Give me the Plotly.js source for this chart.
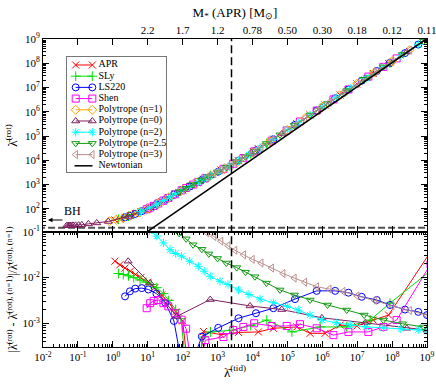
<!DOCTYPE html>
<html><head><meta charset="utf-8">
<script src="https://cdn.plot.ly/plotly-3.0.1.min.js"></script>
<style>html,body{margin:0;padding:0;background:#fff}#chart{width:436px;height:384px}</style>
</head><body><div id="chart"></div>
<script>
// ---- series names (legend order) ----
const seriesNames = ['APR','SLy','LS220','Shen','Polytrope (n=1)','Polytrope (n=0)','Polytrope (n=2)','Polytrope (n=2.5)','Polytrope (n=3)','Newtonian'];

// ---- data as log10 values ----
// APR
const aprLogTid  = [0.06,0.2,0.35,0.5,0.65,0.8,1.0,1.2,1.4,1.6,1.8,2.0,2.2,2.4,2.6,3.1,3.6,4.17,4.6,5.27,5.65,6.08,6.51,6.99,7.46,7.9,9.15];
const aprLogRot  = [1.54,1.58,1.65,1.72,1.8,1.88,2.0,2.14,2.3,2.46,2.62,2.78,2.92,3.07,3.22,3.6,3.98,4.48,4.87,5.51,5.87,6.28,6.69,7.15,7.58,7.99,9.14];
const aprLogDiff = [-1.64,-1.72,-1.79,-1.86,-1.93,-2.0,-2.1,-2.22,-2.38,-2.55,-2.75,-2.95,-4.3,-4.3,-3.18,-3.25,-3.2,-3.19,-3.11,-3.08,-3.22,-3.22,-3.04,-3.06,-2.93,-2.82,-1.38];
// SLy
const slyLogTid  = [0.16,0.3,0.45,0.6,0.78,0.95,1.1,1.26,1.45,1.6,1.8,1.95,2.15,2.35,2.6,2.8,3.45,3.95,4.41,5.13,5.94,6.7,7.37,7.94,9.15];
const slyLogRot  = [1.57,1.62,1.7,1.77,1.87,1.97,2.07,2.19,2.34,2.46,2.62,2.74,2.89,3.04,3.22,3.37,3.86,4.28,4.7,5.37,6.14,6.87,7.5,8.02,9.14];
const slyLogDiff = [-1.91,-1.93,-1.96,-2.0,-2.05,-2.1,-2.15,-2.22,-2.35,-2.5,-2.7,-2.9,-4.3,-4.3,-3.3,-3.19,-3.15,-3.05,-2.93,-3.19,-3.08,-3.08,-2.93,-2.56,-1.82];
// LS220
const lsLogTid   = [0.35,0.49,0.64,0.83,1.02,1.25,1.5,1.75,2.0,2.2,2.55,3.02,3.6,4.1,4.6,5.22,5.84,6.37,6.75,7.13,7.56,7.94,8.37,8.75,9.0];
const lsLogRot   = [1.65,1.71,1.79,1.9,2.01,2.18,2.38,2.58,2.78,2.92,3.19,3.53,3.98,4.41,4.87,5.46,6.05,6.56,6.92,7.28,7.68,8.02,8.42,8.77,9.0];
const lsLogDiff  = [-2.41,-2.3,-2.24,-2.23,-2.26,-2.35,-2.55,-2.95,-4.0,-4.0,-3.29,-3.1,-2.89,-2.78,-2.67,-2.47,-2.29,-2.29,-2.33,-2.42,-2.49,-2.6,-2.7,-2.75,-2.82];
// Shen
const shenLogTid = [0.97,1.07,1.17,1.3,1.45,1.59,1.78,1.97,2.1,2.3,2.45,2.65,3.17,3.45,3.74,4.05,4.55,4.98,5.36,5.84,6.32,6.75,7.32,7.75,8.13,9.1];
const shenLogRot = [1.98,2.05,2.12,2.22,2.34,2.45,2.6,2.76,2.86,3.0,3.11,3.26,3.65,3.86,4.09,4.37,4.81,5.23,5.6,6.05,6.51,6.92,7.45,7.85,8.2,9.09];
const shenLogDiff= [-2.67,-2.56,-2.51,-2.49,-2.56,-2.63,-2.78,-2.92,-3.12,-4.2,-4.2,-3.37,-3.3,-3.15,-3.08,-3.0,-3.06,-3.06,-3.02,-3.11,-3.26,-3.19,-3.19,-3.08,-2.93,-1.71];
// Polytrope n=1 (reference: no difference curve)
const n1LogTid   = [-0.1,0.1,0.3,0.5,0.75,1.0,1.3,1.6,2.0,2.4,2.8,3.2,3.6,4.0,4.5,5.0,5.5,6.0,6.5,7.0,7.5,8.0,8.5,9.0];
const n1LogRot   = [1.49,1.55,1.62,1.72,1.85,2.0,2.22,2.46,2.78,3.07,3.37,3.67,3.98,4.32,4.78,5.25,5.73,6.2,6.68,7.16,7.62,8.08,8.54,9.0];
// Polytrope n=0
const n0LogTid   = [-1.32,-1.28,-1.24,-1.2,-1.14,-1.07,-0.98,-0.89,-0.7,-0.46,-0.13,0.44,1.07,1.83,2.79,3.93,4.84,5.99,7.23,8.42,9.0];
const n0LogRot   = [1.31,1.31,1.31,1.31,1.32,1.32,1.33,1.34,1.38,1.42,1.48,1.69,2.05,2.64,3.36,4.26,5.09,6.19,7.37,8.47,9.0];
const n0DiffLogTid = [0.44,1.07,1.83,2.79,3.93,4.84,5.99,7.23,8.42,9.0];
const n0LogDiff  = [-1.64,-2.12,-2.85,-2.48,-2.62,-2.7,-2.88,-2.99,-3.11,-3.15];
// Polytrope n=2
const n2LogTid   = [0.8,1.05,1.26,1.45,1.64,1.8,1.97,2.2,2.45,2.62,2.79,3.07,3.3,3.6,3.9,4.22,4.6,5.0,5.31,5.65,5.99,6.4,6.8,7.25,7.75,8.25,8.75,9.0];
const n2LogRot   = [1.88,2.04,2.19,2.34,2.49,2.62,2.76,2.92,3.11,3.24,3.36,3.57,3.75,3.98,4.23,4.52,4.87,5.25,5.55,5.87,6.19,6.58,6.97,7.39,7.85,8.31,8.77,9.0];
const n2LogDiff  = [-0.85,-0.98,-1.09,-1.24,-1.39,-1.47,-1.53,-1.64,-1.75,-1.86,-1.97,-2.08,-2.15,-2.27,-2.37,-2.47,-2.55,-2.63,-2.71,-2.82,-2.93,-2.99,-3.04,-3.08,-3.1,-3.12,-3.14,-3.16];
// Polytrope n=2.5
const n25LogTid  = [1.9,2.1,2.3,2.55,2.75,3.0,3.25,3.55,3.8,4.07,4.4,4.79,5.2,5.65,6.15,6.7,7.2,7.75,8.3,8.9];
const n25LogRot  = [2.7,2.85,3.0,3.19,3.33,3.52,3.71,3.94,4.14,4.38,4.69,5.05,5.44,5.87,6.34,6.87,7.34,7.85,8.36,8.91];
const n25LogDiff = [-1.03,-1.15,-1.28,-1.38,-1.48,-1.58,-1.68,-1.78,-1.88,-1.98,-2.12,-2.27,-2.38,-2.49,-2.6,-2.71,-2.82,-2.93,-3.01,-3.08];
// Polytrope n=3
const n3LogTid   = [2.7,2.9,3.1,3.3,3.5,3.75,4.0,4.25,4.55,4.88,5.2,5.5,5.84,6.2,6.6,7.0,7.5,8.0,8.5,9.0];
const n3LogRot   = [3.3,3.45,3.6,3.75,3.9,4.1,4.32,4.55,4.83,5.14,5.44,5.73,6.05,6.39,6.78,7.16,7.62,8.08,8.54,9.0];
const n3LogDiff  = [-1.02,-1.1,-1.2,-1.3,-1.4,-1.5,-1.6,-1.68,-1.79,-1.91,-2.01,-2.1,-2.2,-2.25,-2.3,-2.4,-2.5,-2.62,-2.72,-2.82];
// Newtonian line
const newtLogTid = [1.0, 9.0];
const newtLogRot = [1.07, 9.02];
// reference lines
const bhLogRot = 1.22;      // BH limit (horizontal dashed)
const markLogTid = 3.4;     // vertical dashed line

// ---- tick labels ----
const xTickVals = [1e-2,1e-1,1e0,1e1,1e2,1e3,1e4,1e5,1e6,1e7,1e8,1e9];
const xTickText = ['10<sup>-2</sup>','10<sup>-1</sup>','10<sup>0</sup>','10<sup>1</sup>','10<sup>2</sup>','10<sup>3</sup>','10<sup>4</sup>','10<sup>5</sup>','10<sup>6</sup>','10<sup>7</sup>','10<sup>8</sup>','10<sup>9</sup>'];
const massTickVals = [1e-1,1e0,1e1,1e2,1e3,1e4,1e5,1e6,1e7,1e8,1e9];
const massTickText = ['','','2.2','1.7','1.2','0.78','0.50','0.30','0.18','0.12','0.11'];
const topYTickVals = [1e2,1e3,1e4,1e5,1e6,1e7,1e8,1e9];
const topYTickText = ['10<sup>2</sup>','10<sup>3</sup>','10<sup>4</sup>','10<sup>5</sup>','10<sup>6</sup>','10<sup>7</sup>','10<sup>8</sup>','10<sup>9</sup>'];
const lowYTickVals = [1e-3,1e-2,1e-1];
const lowYTickText = ['10<sup>-3</sup>','10<sup>-2</sup>','10<sup>-1</sup>'];

// ---- styles ----
const colors  = ['#ff0000','#00e000','#0000ff','#ff00ff','#ffa500','#7f1f5f','#00ffff','#139a13','#bc8f8f','#000000'];
const symbols = ['x-thin-open','cross-thin-open','circle-open','square-open','diamond-open','triangle-up-open','asterisk-open','triangle-down-open','triangle-left-open',null];
const FONT = 'Liberation Serif, Times New Roman, serif';
const lin = a => a.map(v => Math.pow(10, v));

const series = [
  {tid: aprLogTid,  rot: aprLogRot,  dTid: aprLogTid,    diff: aprLogDiff},
  {tid: slyLogTid,  rot: slyLogRot,  dTid: slyLogTid,    diff: slyLogDiff},
  {tid: lsLogTid,   rot: lsLogRot,   dTid: lsLogTid,     diff: lsLogDiff},
  {tid: shenLogTid, rot: shenLogRot, dTid: shenLogTid,   diff: shenLogDiff},
  {tid: n1LogTid,   rot: n1LogRot,   dTid: null,         diff: null},
  {tid: n0LogTid,   rot: n0LogRot,   dTid: n0DiffLogTid, diff: n0LogDiff},
  {tid: n2LogTid,   rot: n2LogRot,   dTid: n2LogTid,     diff: n2LogDiff},
  {tid: n25LogTid,  rot: n25LogRot,  dTid: n25LogTid,    diff: n25LogDiff},
  {tid: n3LogTid,   rot: n3LogRot,   dTid: n3LogTid,     diff: n3LogDiff}
];

const traces = [];
function mk(i, size){ return {symbol: symbols[i], size: size, color: colors[i], line: {color: colors[i], width: 1}}; }

// reference dashed lines (behind data)
traces.push({x: [1e-3, 1e10], y: [Math.pow(10,bhLogRot), Math.pow(10,bhLogRot)], xaxis:'x2', yaxis:'y', mode:'lines',
  line:{color:'#505050', width:2, dash:'7px,3px'}, showlegend:false, hoverinfo:'skip'});

series.forEach((s, i) => {
  traces.push({x: lin(s.tid), y: lin(s.rot), xaxis:'x2', yaxis:'y', mode:'lines+markers',
    line:{color: colors[i], width:1}, marker: mk(i, 7), showlegend:false, name: seriesNames[i]});
});
traces.push({x: lin(newtLogTid), y: lin(newtLogRot), xaxis:'x2', yaxis:'y', mode:'lines',
  line:{color:'#000', width:1.5}, showlegend:false, name: seriesNames[9]});

series.forEach((s, i) => {
  if (!s.diff) return;
  traces.push({x: lin(s.dTid), y: lin(s.diff), xaxis:'x', yaxis:'y2', mode:'lines+markers',
    line:{color: colors[i], width:1}, marker: mk(i, 7), showlegend:false, name: seriesNames[i]});
});

// vertical dashed line in both panels
const vx = Math.pow(10, markLogTid);
traces.push({x:[vx,vx], y:[1, 1e11], xaxis:'x2', yaxis:'y', mode:'lines', line:{color:'#000', width:1.5, dash:'8px,4px'}, showlegend:false, hoverinfo:'skip'});
traces.push({x:[vx,vx], y:[1e-6, 1], xaxis:'x', yaxis:'y2', mode:'lines', line:{color:'#000', width:1.5, dash:'8px,4px'}, showlegend:false, hoverinfo:'skip'});

// custom legend drawn in its own small subplot
const legY = seriesNames.map((_, i) => 8 + i * 11.2);
seriesNames.forEach((n, i) => {
  if (i < 9) {
    traces.push({x:[8.7, 25.3], y:[legY[i], legY[i]], xaxis:'x4', yaxis:'y4', mode:'lines+markers',
      line:{color: colors[i], width:1}, marker: mk(i, 7), showlegend:false, hoverinfo:'skip'});
  } else {
    traces.push({x:[7.5, 25.5], y:[legY[i], legY[i]], xaxis:'x4', yaxis:'y4', mode:'lines',
      line:{color:'#000', width:1.5}, showlegend:false, hoverinfo:'skip'});
  }
});
traces.push({x: seriesNames.map(() => 31.5), y: legY, text: seriesNames, xaxis:'x4', yaxis:'y4', mode:'text',
  textposition:'middle right', marker:{size:2}, textfont:{family: FONT, size: 10, color:'#000'}, showlegend:false, hoverinfo:'skip'});

function minors(lo, hi){ const v=[]; for (let e=lo; e<hi; e++) for (let k=2;k<=9;k++) v.push(k*Math.pow(10,e)); return v; }

const axBase = {type:'log', showline:true, linecolor:'#000', linewidth:1, mirror:'ticks', ticks:'inside', ticklen:6, tickwidth:1,
  tickcolor:'#000', showgrid:false, zeroline:false, tickmode:'array', ticklabeloverflow:'allow',
  tickfont:{family: FONT, size:11, color:'#000'}, automargin:false};
const legAx = {showline:true, mirror:true, linecolor:'#777', linewidth:1, showticklabels:false, ticks:'', showgrid:false, zeroline:false, fixedrange:true};

const hSplit = 0.3734;
const layout = {
  width: 436, height: 384,
  margin: {l:43, r:9, t:39, b:37},
  paper_bgcolor:'#fff', plot_bgcolor:'rgba(0,0,0,0)',
  font: {family: FONT, size: 11, color:'#000'},
  showlegend: false,
  xaxis: Object.assign({}, axBase, {domain:[0,1], range:[-2,9], anchor:'y2', side:'bottom', tickvals: xTickVals, ticktext: xTickText,
    minor:{tickmode:'array', tickvals: minors(-2,9), ticks:'inside', ticklen:3, tickwidth:1, tickcolor:'#000'},
    title:{text:'\u03BB\u0304<sup>(tid)</sup>', font:{family: FONT, size:13}, standoff:2}}),
  xaxis2: Object.assign({}, axBase, {domain:[0,1], range:[-2,9], anchor:'y', side:'top', tickvals: massTickVals, ticktext: massTickText,
    title:{text:'M<sub>*</sub> (APR) [M<sub>\u2299</sub>]', font:{family: FONT, size:13}, standoff:3}}),
  yaxis: Object.assign({}, axBase, {domain:[hSplit,1], range:[1.045,9], anchor:'x2', tickvals: topYTickVals, ticktext: topYTickText,
    minor:{tickmode:'array', tickvals: minors(1,9), ticks:'inside', ticklen:3, tickwidth:1, tickcolor:'#000'},
    title:{text:'\u03BB\u0304<sup>(rot)</sup>', font:{family: FONT, size:13}, standoff:4}}),
  yaxis2: Object.assign({}, axBase, {domain:[0,hSplit], range:[-3.52,-1], anchor:'x', tickvals: lowYTickVals, ticktext: lowYTickText,
    minor:{tickmode:'array', tickvals: minors(-4,-1), ticks:'inside', ticklen:3, tickwidth:1, tickcolor:'#000'},
    title:{text:'|\u03BB\u0304<sup>(rot)</sup> - \u03BB\u0304<sup>(rot), (n=1)</sup>|/\u03BB\u0304<sup>(rot), (n=1)</sup>', font:{family: FONT, size:12}, standoff:2}}),
  xaxis4: Object.assign({}, legAx, {domain:[0.0625,0.3203], range:[0,99], anchor:'y4'}),
  yaxis4: Object.assign({}, legAx, {domain:[0.5682,0.9416], range:[115,0], anchor:'x4'}),
  annotations: [
    {xref:'paper', yref:'paper', x:0.0495, y:0.4416, text:'BH', showarrow:false, font:{family: FONT, size:12, color:'#000'}},
    {xref:'paper', yref:'paper', x:0.013, y:0.4123, ax:16, ay:0, text:'', showarrow:true, arrowhead:2, arrowsize:0.9, arrowwidth:1, arrowcolor:'#000'}
  ]
};

Plotly.newPlot('chart', traces, layout, {staticPlot:true, displayModeBar:false});
</script>
</body></html>
